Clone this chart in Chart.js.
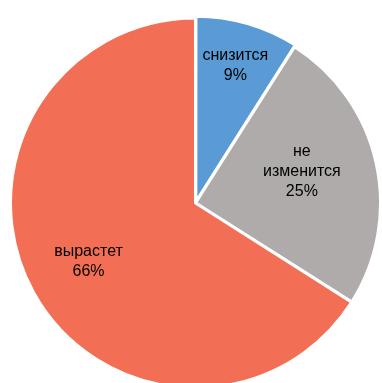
<!DOCTYPE html>
<html>
<head>
<meta charset="utf-8">
<script src="https://cdn.jsdelivr.net/npm/chart.js@4/dist/chart.umd.min.js"></script>
<style>
    html, body { margin: 0; padding: 0; background: #fff; }
    #wrap { width: 382px; height: 383px; }
</style>
</head>
<body>
<div id="wrap"><canvas id="pieChart"></canvas></div>
<script>
// Forecast shares, clockwise from 12 o'clock
const categories = ['снизится', 'не изменится', 'вырастет'];
const shares = [9, 25, 66];
const sliceColors = ['#5B9BD5', '#AFABAB', '#F26F55'];
const sliceOffsets = [5, 0, 0];

// Label placement: fraction of radius along the mid angle, plus a small angle nudge (deg)
const labelDistance = [0.745, 0.6, 0.66];
const labelNudge = [0, -4, 0];

function wrapWords(ctx, text, maxWidth) {
    const words = text.split(' ');
    const lines = [];
    let line = '';
    words.forEach(w => {
        const test = line ? line + ' ' + w : w;
        if (line && ctx.measureText(test).width > maxWidth) {
            lines.push(line);
            line = w;
        } else {
            line = test;
        }
    });
    if (line) lines.push(line);
    return lines;
}

// Draws "category / value%" inside each slice
const sliceLabels = {
    id: 'sliceLabels',
    afterDatasetsDraw(chart) {
        const ctx = chart.ctx;
        const meta = chart.getDatasetMeta(0);
        ctx.save();
        ctx.font = '16px "Liberation Sans", Arial, sans-serif';
        ctx.fillStyle = '#000';
        ctx.textAlign = 'center';
        ctx.textBaseline = 'middle';
        meta.data.forEach((arc, i) => {
            const p = arc.getProps(['x', 'y', 'startAngle', 'endAngle', 'outerRadius']);
            const mid = (p.startAngle + p.endAngle) / 2 + labelNudge[i] * Math.PI / 180;
            const r = p.outerRadius * labelDistance[i] + sliceOffsets[i];
            const cx = p.x + Math.cos(mid) * r;
            const cy = p.y + Math.sin(mid) * r;
            const lines = wrapWords(ctx, categories[i], 90);
            lines.push(shares[i] + '%');
            const lh = 20;
            const top = cy - (lines.length - 1) * lh / 2;
            lines.forEach((t, k) => ctx.fillText(t, cx, top + k * lh));
        });
        ctx.restore();
    }
};

const chart = new Chart(document.getElementById('pieChart'), {
    type: 'pie',
    data: {
        labels: categories,
        datasets: [{
            data: shares,
            backgroundColor: sliceColors,
            borderColor: '#fff',
            borderWidth: 3,
            offset: sliceOffsets
        }]
    },
    options: {
        responsive: true,
        maintainAspectRatio: false,
        animation: false,
        radius: 185,
        layout: {
            padding: { left: 9, right: 0, top: 23, bottom: 0 }
        },
        plugins: {
            legend: { display: false },
            tooltip: { enabled: false }
        }
    },
    plugins: [sliceLabels]
});
</script>
</body>
</html>
